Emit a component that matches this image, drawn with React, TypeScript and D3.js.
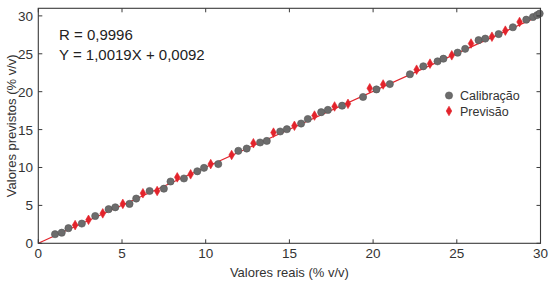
import React from "react";
import * as d3 from "d3";

const calX = [1.0, 1.4, 1.8, 2.6, 3.4, 4.2, 4.6, 5.45, 5.85, 6.65, 7.5, 7.9, 8.7, 9.5, 9.9, 10.75, 11.95, 12.45, 13.25, 13.65, 14.45, 14.85, 15.7, 16.1, 16.9, 17.3, 18.15, 19.4, 20.2, 21.0, 22.2, 23.0, 23.85, 24.2, 25.05, 25.5, 26.3, 26.7, 27.5, 28.35, 29.15, 29.55, 29.8, 29.95];
const calY = [1.2, 1.4, 2.0, 2.6, 3.6, 4.5, 4.75, 5.2, 5.9, 6.9, 7.2, 8.15, 8.55, 9.5, 9.95, 10.45, 12.2, 12.5, 13.3, 13.5, 14.75, 15.05, 15.8, 16.4, 17.3, 17.6, 18.15, 19.3, 20.3, 21.0, 22.3, 23.35, 24.0, 24.35, 25.15, 25.65, 26.8, 27.0, 27.6, 28.5, 29.5, 29.85, 30.1, 30.3];
const predX = [2.2, 3.0, 3.85, 5.05, 6.25, 7.1, 8.3, 9.1, 10.3, 11.55, 12.85, 14.05, 15.3, 16.5, 17.7, 18.5, 19.8, 20.6, 22.6, 23.4, 24.7, 25.85, 27.1, 27.9, 28.75];
const predY = [2.4, 3.1, 3.95, 5.2, 6.6, 6.9, 8.7, 9.1, 10.45, 11.65, 13.2, 14.6, 15.5, 16.85, 18.05, 18.4, 20.45, 20.95, 22.9, 23.7, 24.8, 26.35, 27.25, 28.05, 29.2];
const xTicks = [0, 5, 10, 15, 20, 25, 30];
const yTicks = [0, 5, 10, 15, 20, 25, 30];
const slope = 1.0019;
const intercept = 0.0092;
const annotR = "R = 0,9996";
const annotEq = "Y = 1,0019X + 0,0092";
const xTitle = "Valores reais (% v/v)";
const yTitle = "Valores previstos (% v/v)";
const legendLabels = ["Calibração", "Previsão"];

const W = 550, H = 283;
const L = 38.3, R = 540.5, T = 8.3, B = 243.3;
const FONT = "'Liberation Sans', Arial, sans-serif";
const AX = "#3a3a3a";
const GRAY = "#6c6c6c";
const RED = "#e3232b";

export default function App() {
  const x = d3.scaleLinear().domain([0, 30]).range([L, R]);
  const y = d3.scaleLinear().domain([0, 31]).range([B, T]);
  const line = d3.line<number>().x((d) => x(d)).y((d) => y(slope * d + intercept));
  const tl = 4;
  const diamond = (cx: number, cy: number) =>
    `M${cx},${cy - 4.8}L${cx + 2.8},${cy}L${cx},${cy + 4.8}L${cx - 2.8},${cy}Z`;
  return (
    <svg width={W} height={H} style={{ position: "absolute", left: 0, top: 0, background: "#fff" }} fontFamily={FONT}>
      <path d={line([0, 30]) || ""} stroke={RED} strokeWidth={1.2} fill="none" />
      {calX.map((v, i) => (
        <circle key={"c" + i} cx={x(v)} cy={y(calY[i])} r={3.6} fill={GRAY} stroke="#555" strokeWidth={0.6} />
      ))}
      {predX.map((v, i) => (
        <path key={"p" + i} d={diamond(x(v), y(predY[i]))} fill={RED} stroke={RED} strokeWidth={0.6} />
      ))}
      <rect x={L} y={T} width={R - L} height={B - T} fill="none" stroke={AX} strokeWidth={1.1} />
      {xTicks.map((t) => (
        <g key={"xt" + t}>
          <line x1={x(t)} x2={x(t)} y1={B} y2={B - tl} stroke={AX} />
          <line x1={x(t)} x2={x(t)} y1={T} y2={T + tl} stroke={AX} />
          <text x={x(t)} y={258} textAnchor="middle" fontSize={13.5} fill="#333">{t}</text>
        </g>
      ))}
      {yTicks.map((t) => (
        <g key={"yt" + t}>
          <line x1={L} x2={L + tl} y1={y(t)} y2={y(t)} stroke={AX} />
          <line x1={R} x2={R - tl} y1={y(t)} y2={y(t)} stroke={AX} />
          <text x={33} y={y(t) + 5} textAnchor="end" fontSize={13.5} fill="#333">{t}</text>
        </g>
      ))}
      <text x={(L + R) / 2} y={277} textAnchor="middle" fontSize={13} fill="#333">{xTitle}</text>
      <text transform={`translate(16,${(T + B) / 2}) rotate(-90)`} textAnchor="middle" fontSize={13} fill="#333">{yTitle}</text>
      <text x={59} y={40} fontSize={15} fill="#222">{annotR}</text>
      <text x={59} y={60} fontSize={15} fill="#222">{annotEq}</text>
      <circle cx={449} cy={95.5} r={3.6} fill={GRAY} stroke="#555" strokeWidth={0.6} />
      <text x={460} y={100} fontSize={12.5} fill="#333">{legendLabels[0]}</text>
      <path d={diamond(449, 111)} fill={RED} stroke={RED} strokeWidth={0.6} />
      <text x={460} y={115.5} fontSize={12.5} fill="#333">{legendLabels[1]}</text>
    </svg>
  );
}
